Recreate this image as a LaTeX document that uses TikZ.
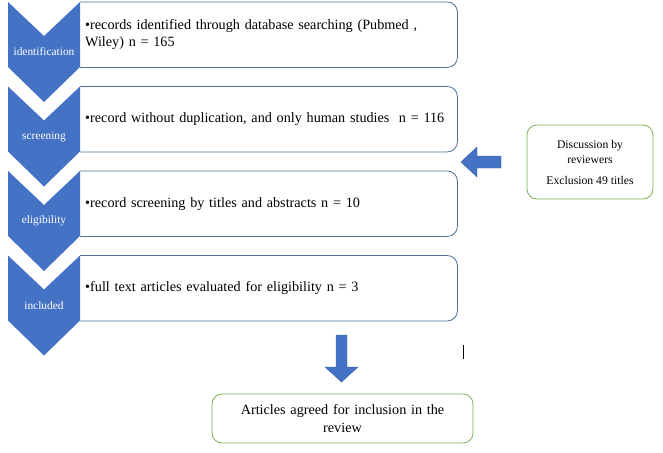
\documentclass[tikz,border=0pt]{standalone}
\usepackage{fontspec}
\setmainfont{Liberation Serif}
\definecolor{chevblue}{HTML}{4472C4}
\definecolor{arrline}{HTML}{3A62A8}
\definecolor{recline}{HTML}{4A6E96}
\definecolor{revgreen}{HTML}{7DAE55}
\begin{document}
\begin{tikzpicture}[x=1pt, y=-1pt,
  stagelab/.style={text=white, font=\fontsize{11.4}{13}\selectfont},
  recbox/.style={anchor=north west, text width=367pt, inner xsep=5pt,
    minimum height=65pt, align=left, font=\fontsize{14.2}{16.5}\selectfont},
  greenbox/.style={draw=revgreen, line width=0.8pt, rounded corners=10pt, align=center}]
  \useasboundingbox (0,0) rectangle (663,452);
  % Record boxes and stage chevrons
  \foreach \k/\lab/\rec in {0/identification/{\textbullet records identified through database searching (Pubmed ,\\Wiley) n = 165},
      1/screening/{\textbullet record without duplication, and only human studies~ n = 116},
      2/eligibility/{\textbullet record screening by titles and abstracts n = 10},
      3/included/{\textbullet full text articles evaluated for eligibility n = 3}} {
    \pgfmathsetmacro{\t}{2+84.5*\k}
    \node[recbox] (rec\k) at (80,\t) {\rec};
    \draw[recline, line width=0.8pt, rounded corners=10pt]
      (rec\k.north west) -- (rec\k.north east) -- (rec\k.south east) -- (rec\k.south west);
    \fill[chevblue] (8,\t) -- (44,\t+34) -- (80,\t) -- (80,\t+65)
      -- (44,\t+100) -- (8,\t+65) -- cycle;
    \node[stagelab] (stage\k) at (44,\t+50) {\lab};
  }
  % Reviewer discussion
  \node[greenbox, minimum width=126pt, minimum height=74pt,
    font=\fontsize{11.7}{15}\selectfont] (disc) at (590,162)
    {Discussion by\\reviewers\\[6pt]Exclusion 49 titles};
  \filldraw[chevblue, draw=arrline] (461,162) -- (477,147) -- (477,156) -- (501,156)
    -- (501,168) -- (477,168) -- (477,177) -- cycle;
  % Final result
  \filldraw[chevblue, draw=arrline] (341.5,382) -- (325,367) -- (336,367) -- (336,335)
    -- (347,335) -- (347,367) -- (358,367) -- cycle;
  \draw[line width=0.7pt] (463,345) -- (463,359);
  \node[greenbox, minimum width=261pt, minimum height=49pt, text width=245pt,
    font=\fontsize{14.2}{18}\selectfont] (incl) at (342.5,418.5)
    {Articles agreed for inclusion in the\\review};
\end{tikzpicture}
\end{document}
